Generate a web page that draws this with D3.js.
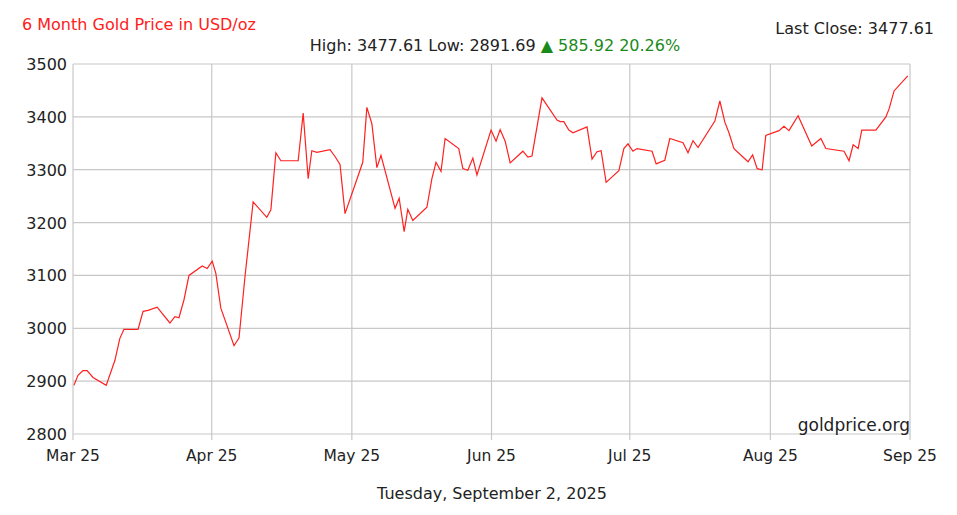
<!DOCTYPE html>
<html lang="en">
<head>
<meta charset="UTF-8">
<script src="https://cdnjs.cloudflare.com/ajax/libs/d3/7.8.5/d3.min.js"></script>
<title>6 Month Gold Price</title>
<style>
  body { margin: 0; background: #fff; }
  svg text { font-family: "DejaVu Sans", Verdana, sans-serif; }
</style>
</head>
<body>
<svg width="957" height="515"></svg>
<script>
// days since Mar 1 2025, and gold price in USD/oz
var days = [0.2, 1.1, 2.2, 3.1, 4.4, 7.3, 9.2, 10.3, 11.2, 14.3, 15.4, 16.5, 18.5, 21.3, 22.4, 23.3, 24.4, 25.5, 28.4, 29.5,
    30.6, 31.4, 32.5, 35.4, 36.5, 37.8, 39.6, 42.6, 43.5, 44.6, 45.7, 49.5, 50.6, 51.7, 52.5, 53.6, 56.5, 57.6, 58.7, 59.8,
    63.7, 64.6, 65.7, 66.8, 67.7, 70.8, 71.7, 72.8, 73.6, 74.7, 77.8, 78.9, 79.8, 80.9, 81.8, 84.8, 85.7, 86.8, 87.9, 88.8,
    91.9, 93.0, 93.9, 95.0, 96.1, 98.9, 100.0, 100.9, 103.1, 106.4, 107.1, 107.9, 109.0, 109.9, 113.0, 114.1, 115.2, 116.1, 117.2, 120.0,
    121.1, 122.0, 123.1, 124.0, 127.3, 128.2, 130.1, 131.2, 134.1, 135.2, 136.3, 137.4, 141.1, 142.2, 143.3, 144.2, 145.3, 148.4, 149.4, 150.4,
    151.5, 152.3, 155.2, 156.3, 157.4, 159.4, 162.4, 164.4, 165.5, 169.5, 170.6, 171.5, 172.6, 173.4, 176.5, 178.7, 179.4, 180.5, 183.5];
var prices = [2892, 2911, 2920, 2920, 2907, 2892, 2939, 2981, 2998, 2998, 3032, 3034, 3040, 3010, 3022, 3020, 3054, 3100, 3118, 3113,
    3127, 3104, 3038, 2967, 2982, 3097, 3239, 3210, 3224, 3332, 3317, 3317, 3407, 3283, 3336, 3333, 3338, 3325, 3310, 3217,
    3314, 3418, 3387, 3304, 3327, 3227, 3246, 3183, 3225, 3204, 3229, 3283, 3314, 3297, 3359, 3340, 3302, 3299, 3322, 3290,
    3375, 3354, 3376, 3354, 3313, 3335, 3324, 3326, 3436, 3394, 3391, 3391, 3375, 3370, 3381, 3320, 3334, 3336, 3276, 3298,
    3340, 3349, 3335, 3340, 3335, 3311, 3318, 3359, 3351, 3332, 3355, 3342, 3392, 3430, 3390, 3370, 3340, 3315, 3328, 3302,
    3300, 3365, 3374, 3382, 3374, 3402, 3345, 3359, 3340, 3335, 3317, 3347, 3340, 3375, 3375, 3400, 3415, 3449, 3477.61];
var monthDays = [0, 30.5, 61.3, 92.0, 122.4, 153.3, 184];
var monthLabels = ["Mar 25", "Apr 25", "May 25", "Jun 25", "Jul 25", "Aug 25", "Sep 25"];
var priceTicks = [2800, 2900, 3000, 3100, 3200, 3300, 3400, 3500];

var svg = d3.select("svg");
var x = d3.scaleLinear().domain([0, 184]).range([73, 910]);
var y = d3.scaleLinear().domain([2800, 3500]).range([434, 64]);

// grid
svg.append("g").selectAll("line.h").data(priceTicks).enter().append("line")
    .attr("x1", 73).attr("x2", 910)
    .attr("y1", d => y(d)).attr("y2", d => y(d))
    .attr("stroke", "#c8c8c8").attr("stroke-width", 1.2);
svg.append("g").selectAll("line.v").data(monthDays).enter().append("line")
    .attr("x1", d => x(d)).attr("x2", d => x(d))
    .attr("y1", 64).attr("y2", 440)
    .attr("stroke", "#c8c8c8").attr("stroke-width", 1.2);

// tick labels
svg.append("g").selectAll("text").data(priceTicks).enter().append("text")
    .attr("x", 67).attr("y", d => y(d) + 6)
    .attr("text-anchor", "end").attr("font-size", 16).attr("fill", "#222")
    .text(d => d);
svg.append("g").selectAll("text").data(monthDays).enter().append("text")
    .attr("x", d => x(d)).attr("y", 461)
    .attr("text-anchor", "middle").attr("font-size", 15.5).attr("fill", "#222")
    .text((d, i) => monthLabels[i]);

// line
var pts = days.map((d, i) => [d, prices[i]]);
svg.append("path").datum(pts)
    .attr("fill", "none").attr("stroke", "#ff2020").attr("stroke-width", 1.2)
    .attr("d", d3.line().x(d => x(d[0])).y(d => y(d[1])));

// texts
svg.append("text").attr("x", 22).attr("y", 30).attr("font-size", 16).attr("fill", "#ff2020")
    .text("6 Month Gold Price in USD/oz");
svg.append("text").attr("x", 934).attr("y", 34).attr("text-anchor", "end").attr("font-size", 16).attr("fill", "#222")
    .text("Last Close: 3477.61");
var hl = svg.append("text").attr("x", 495).attr("y", 51).attr("text-anchor", "middle").attr("font-size", 16).attr("fill", "#222");
hl.append("tspan").text("High: 3477.61 Low: 2891.69 ");
hl.append("tspan").attr("fill", "#1a8a1a").text("\u25B2 585.92 20.26%");
svg.append("text").attr("x", 910).attr("y", 431).attr("text-anchor", "end").attr("font-size", 17).attr("fill", "#222")
    .text("goldprice.org");
svg.append("text").attr("x", 492).attr("y", 499).attr("text-anchor", "middle").attr("font-size", 16).attr("fill", "#222")
    .text("Tuesday, September 2, 2025");
</script>
</body>
</html>
